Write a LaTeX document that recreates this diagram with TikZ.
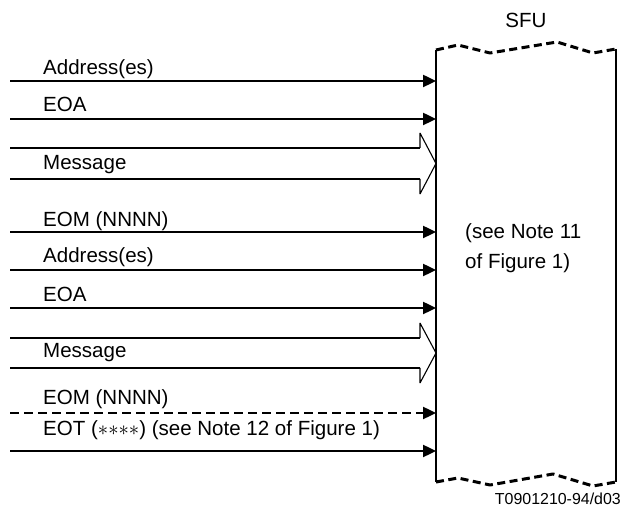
\documentclass[tikz,border=0pt]{standalone}
\usepackage{fontspec}
\setmainfont{Liberation Sans}
\usetikzlibrary{arrows.meta}
\begin{document}
\begin{tikzpicture}[>={Triangle[length=13bp,width=12bp]},line join=bevel,
  sig/.style={line width=2.4bp},
  head/.style={line width=1.1bp},
  rim/.style={line width=3bp,dash pattern=on 8bp off 4.5bp},
  lbl/.style={anchor=base west,inner sep=0pt,font=\fontsize{20.6}{24}\selectfont},
  ]
%%
  \useasboundingbox (0bp,0bp) rectangle (623bp,507bp);
%% SFU
  \coordinate (SFUtl) at (436bp,457bp);
  \coordinate (SFUbl) at (436bp,25bp);
  \coordinate (SFUtr) at (616bp,458bp);
  \coordinate (SFUbr) at (616bp,25bp);
  \draw [sig] (SFUtl) -- (SFUbl);
  \draw [sig] (SFUtr) -- (SFUbr);
  \draw [rim] (SFUtl) -- (458bp,462bp) -- (490bp,454bp) -- (557bp,465bp) -- (593bp,454bp) -- (SFUtr);
  \draw [rim] (SFUbl) -- (458bp,29bp) -- (490bp,22bp) -- (553bp,33bp) -- (593bp,21bp) -- (SFUbr);
  \node (SFU) at (526bp,479bp) [lbl,anchor=base] {SFU};
  \node (note1) at (465bp,268bp) [lbl] {(see Note 11};
  \node (note2) at (465bp,238bp) [lbl] {of Figure 1)};
  \node (fig) at (621bp,3bp) [anchor=base east,inner sep=0pt,font=\fontsize{16}{19}\selectfont] {T0901210-94/d03};
%% first group
  \coordinate (Addr1s) at (10bp,426bp);
  \coordinate (Addr1e) at (436bp,426bp);
  \draw [->,sig] (Addr1s) -- (Addr1e);
  \node (Addr1) at (43bp,432bp) [lbl] {Address(es)};
  \coordinate (EOA1s) at (10bp,388bp);
  \coordinate (EOA1e) at (436bp,388bp);
  \draw [->,sig] (EOA1s) -- (EOA1e);
  \node (EOA1) at (43bp,395bp) [lbl] {EOA};
  \coordinate (Msg1s) at (10bp,359bp);
  \coordinate (Msg1a) at (420bp,359bp);
  \coordinate (Msg1t) at (436bp,343.5bp);
  \coordinate (Msg1b) at (420bp,328bp);
  \draw [sig] (Msg1s) -- (Msg1a);
  \draw [sig] (10bp,328bp) -- (Msg1b);
  \draw [head] (Msg1a) -- (420bp,374bp) -- (Msg1t) -- (420bp,313bp) -- (Msg1b);
  \node (Msg1) at (43bp,337bp) [lbl] {Message};
  \coordinate (EOM1s) at (10bp,275bp);
  \coordinate (EOM1e) at (436bp,275bp);
  \draw [->,sig] (EOM1s) -- (EOM1e);
  \node (EOM1) at (43bp,280bp) [lbl] {EOM (NNNN)};
%% second group
  \coordinate (Addr2s) at (10bp,237bp);
  \coordinate (Addr2e) at (436bp,237bp);
  \draw [->,sig] (Addr2s) -- (Addr2e);
  \node (Addr2) at (43bp,244bp) [lbl] {Address(es)};
  \coordinate (EOA2s) at (10bp,199bp);
  \coordinate (EOA2e) at (436bp,199bp);
  \draw [->,sig] (EOA2s) -- (EOA2e);
  \node (EOA2) at (43bp,205bp) [lbl] {EOA};
  \coordinate (Msg2s) at (10bp,169bp);
  \coordinate (Msg2a) at (420bp,169bp);
  \coordinate (Msg2t) at (436bp,154bp);
  \coordinate (Msg2b) at (420bp,139bp);
  \draw [sig] (Msg2s) -- (Msg2a);
  \draw [sig] (10bp,139bp) -- (Msg2b);
  \draw [head] (Msg2a) -- (420bp,184bp) -- (Msg2t) -- (420bp,124bp) -- (Msg2b);
  \node (Msg2) at (43bp,149bp) [lbl] {Message};
  \coordinate (EOM2s) at (10bp,94bp);
  \coordinate (EOM2e) at (436bp,94bp);
  \draw [->,sig,dash pattern=on 9bp off 5bp] (EOM2s) -- (EOM2e);
  \node (EOM2) at (43bp,102bp) [lbl] {EOM (NNNN)};
  \coordinate (EOTs) at (10bp,56bp);
  \coordinate (EOTe) at (436bp,56bp);
  \draw [->,sig] (EOTs) -- (EOTe);
  \node (EOT) at (43bp,71bp) [lbl] {EOT (${\ast}{\ast}{\ast}{\ast}$) (see Note 12 of Figure 1)};
%
\end{tikzpicture}
\end{document}
